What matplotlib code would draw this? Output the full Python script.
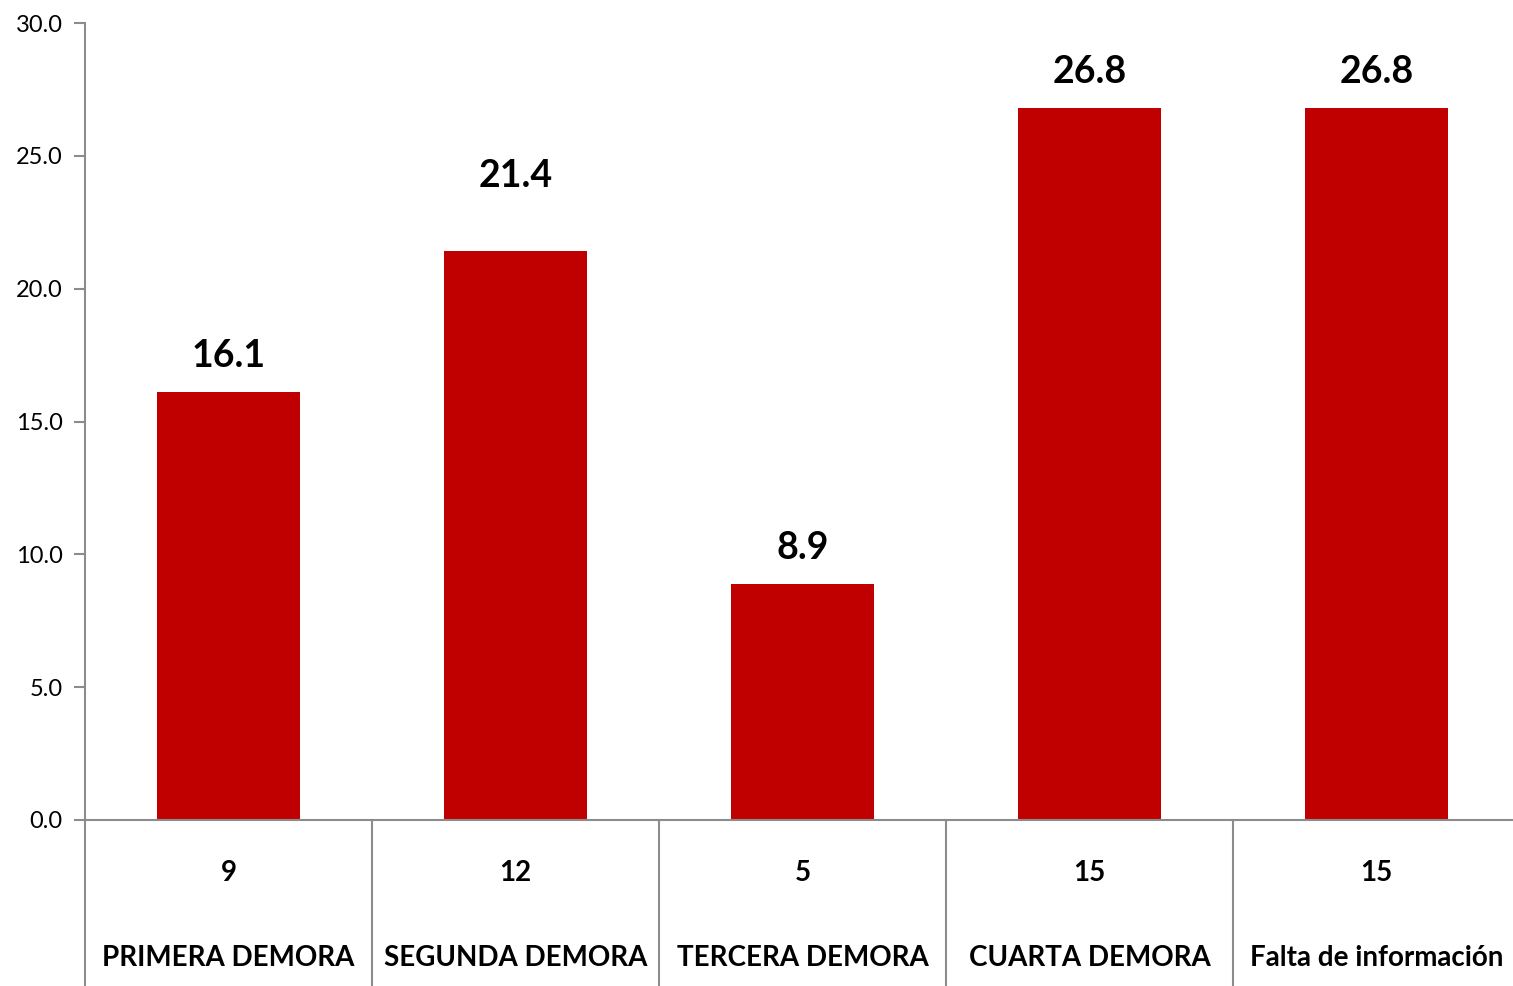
import matplotlib.pyplot as plt
import matplotlib.transforms as mtransforms

categorias = ['PRIMERA DEMORA', 'SEGUNDA DEMORA', 'TERCERA DEMORA', 'CUARTA DEMORA', 'Falta de información']
casos = [9, 12, 5, 15, 15]
porcentajes = [16.1, 21.4, 8.9, 26.8, 26.8]
yticks = [0, 5, 10, 15, 20, 25, 30]

# extra lift of each value label (the second one sits higher in the original)
lift = [0, 1.5, 0, 0, 0]

plt.rcParams['font.family'] = ['Lato', 'DejaVu Sans']

fig = plt.figure(figsize=(15.13, 9.86), dpi=100)
ax = fig.add_axes([85 / 1513, 166 / 986, 1435 / 1513, 797 / 986])

x = list(range(len(categorias)))
ax.bar(x, porcentajes, width=0.5, color='#C00000', zorder=2)

for xi, v, l in zip(x, porcentajes, lift):
    ax.text(xi, v + 1.35 + l, f'{v:.1f}', ha='center', va='center',
            fontsize=27, fontweight='bold', color='black')

ax.set_xlim(-0.5, len(categorias) - 0.5)
ax.set_ylim(0, 30)
ax.set_yticks(yticks)
ax.set_yticklabels([f'{t:.1f}' for t in yticks], fontsize=17)
ax.tick_params(axis='y', length=8, width=1.5, color='#8c8c8c', pad=8)
ax.set_xticks([])

for s in ['top', 'right']:
    ax.spines[s].set_visible(False)
for s in ['left', 'bottom']:
    ax.spines[s].set_color('#8c8c8c')
    ax.spines[s].set_linewidth(1.5)

# multi-level category axis below the plot
trans = mtransforms.blended_transform_factory(ax.transData, ax.transAxes)
bottom = -170 / 797
for b in range(len(categorias) + 1):
    ax.plot([b - 0.5, b - 0.5], [0, bottom], color='#8c8c8c', lw=1.5,
            transform=trans, clip_on=False)

for xi, n, c in zip(x, casos, categorias):
    ax.text(xi, -53 / 797, str(n), ha='center', va='center', transform=trans,
            fontsize=20, fontweight='bold')
    ax.text(xi, -138 / 797, c, ha='center', va='center', transform=trans,
            fontsize=20, fontweight='bold')

fig.savefig('out.png', dpi=100)
